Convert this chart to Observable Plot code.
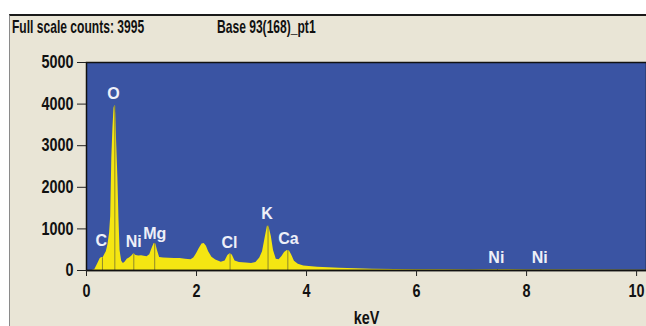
<!DOCTYPE html>
<html>
<head>
<meta charset="utf-8">
<script src="https://cdn.jsdelivr.net/npm/d3@7"></script>
<script src="https://cdn.jsdelivr.net/npm/@observablehq/plot@0.6"></script>
<style>
  html, body { margin: 0; padding: 0; background: #ffffff; }
  #wrap { position: relative; width: 646px; height: 326px; overflow: hidden; }
  #panel { position: absolute; left: 9px; top: 14px; width: 637px; height: 312px;
           background: #e9e5d6; border-top: 2px solid #1a1a1a; border-left: 1px solid #8a8a8a; box-sizing: border-box; }
  .ttl { position: absolute; top: 16px; font-family: "Liberation Sans", Arial, sans-serif;
         font-weight: bold; font-size: 19px; color: #111; white-space: nowrap; transform-origin: left top; transform: scaleX(0.635); }
  #chart { position: absolute; left: 0; top: 40px; }
</style>
</head>
<body>
<div id="wrap">
  <div id="panel"></div>
  <div class="ttl" id="t1" style="left:12px"></div>
  <div class="ttl" id="t2" style="left:217px"></div>
  <div id="chart"></div>
</div>
<script>
const titleLeft = "Full scale counts: 3995";
const titleRight = "Base 93(168)_pt1";

// spectrum: energy (keV) and counts
const energy = [0.00,0.10,0.15,0.20,0.25,0.28,0.30,0.33,0.36,0.39,0.42,0.44,0.46,0.48,0.50,0.515,0.53,0.55,0.57,0.59,0.61,0.64,0.67,0.70,0.74,0.78,0.82,0.86,0.90,0.95,1.00,1.05,1.10,1.15,1.19,1.23,1.26,1.29,1.33,1.40,1.50,1.60,1.70,1.80,1.90,1.95,2.00,2.05,2.10,2.14,2.18,2.22,2.28,2.35,2.45,2.52,2.57,2.61,2.65,2.70,2.78,2.90,3.00,3.08,3.15,3.20,3.25,3.29,3.32,3.36,3.40,3.45,3.50,3.55,3.60,3.65,3.69,3.73,3.78,3.85,3.95,4.05,4.20,4.40,4.60,4.90,5.20,5.60,6.00,6.50,7.00,7.47,8.00,8.26,9.00,10.2];
const counts = [0,0,20,150,290,310,300,380,450,620,900,1300,2700,3400,3900,3970,3780,3000,2250,1250,480,220,170,200,270,300,340,400,360,350,355,345,330,380,520,650,640,480,310,300,295,290,290,270,260,300,400,530,640,650,580,450,320,250,200,230,360,400,370,230,190,180,170,190,300,450,800,1070,1040,820,480,270,260,330,430,480,470,370,220,150,110,95,80,65,55,40,30,25,20,18,15,20,12,15,10,8];

// element peak markers
const peakNames = ["C","O","Ni","Mg","Cl","K","Ca","Ni","Ni"];
const peakEnergy = [0.29,0.515,0.86,1.24,2.61,3.30,3.66,7.47,8.26];
const peakHeight = [300,3950,400,650,400,1070,480,25,25];
const labelEnergy = [0.27,0.49,0.86,1.24,2.60,3.28,3.67,7.45,8.24];
const labelCounts = [720,4250,700,890,670,1370,770,310,310];

const xTicks = [0,2,4,6,8,10];
const yTicks = [0,1000,2000,3000,4000,5000];

document.getElementById("t1").textContent = titleLeft;
document.getElementById("t2").textContent = titleRight;

const spectrum = energy.map((e, i) => ({e, c: counts[i]}));
const peaks = peakNames.map((n, i) => ({n, e: peakEnergy[i], h: peakHeight[i], le: labelEnergy[i], lc: labelCounts[i]}));

const axisFont = {fontFamily: "'Liberation Sans', Arial, sans-serif", fontWeight: "bold", fontSize: 18};

const chart = Plot.plot({
  width: 646,
  height: 286,
  marginLeft: 86,
  marginRight: 0,
  marginTop: 22,
  marginBottom: 56,
  style: {background: "transparent", color: "#111", overflow: "visible"},
  x: {domain: [0, 10.18]},
  y: {domain: [0, 5000]},
  marks: [
    Plot.frame({fill: "#3a54a3", stroke: null}),
    Plot.areaY(spectrum, {x: "e", y: "c", fill: "#f5e612", clip: true}),
    Plot.ruleX(peaks, {x: "e", y1: 0, y2: "h", stroke: "#8e8a2c", strokeWidth: 1}),
    Plot.text(peaks, {x: "le", y: "lc", text: "n", fill: "#eef0f8", fontFamily: "'Liberation Sans', Arial, sans-serif", fontWeight: "bold", fontSize: 16}),
    Plot.ruleY([0], {stroke: "#222", strokeWidth: 1.5}),
    Plot.frame({stroke: "#111", strokeWidth: 1.5, fill: null}),
    Plot.axisX({ticks: xTicks, tickSize: 6, tickPadding: 8, stroke: "#222", label: "keV", labelAnchor: "center", labelArrow: "none", labelOffset: 53, ...axisFont}),
    Plot.axisY({ticks: yTicks, tickSize: 9, tickPadding: 4, tickFormat: d3.format("d"), stroke: "#222", label: null, ...axisFont})
  ]
});
// condensed look for axis texts
d3.select(chart).selectAll("g[aria-label$='axis tick label'] text, g[aria-label$='axis label'] text").each(function() {
  const t = this.getAttribute("transform") || "";
  this.setAttribute("transform", t + " scale(0.8,1)");
});
document.getElementById("chart").appendChild(chart);
</script>
</body>
</html>
